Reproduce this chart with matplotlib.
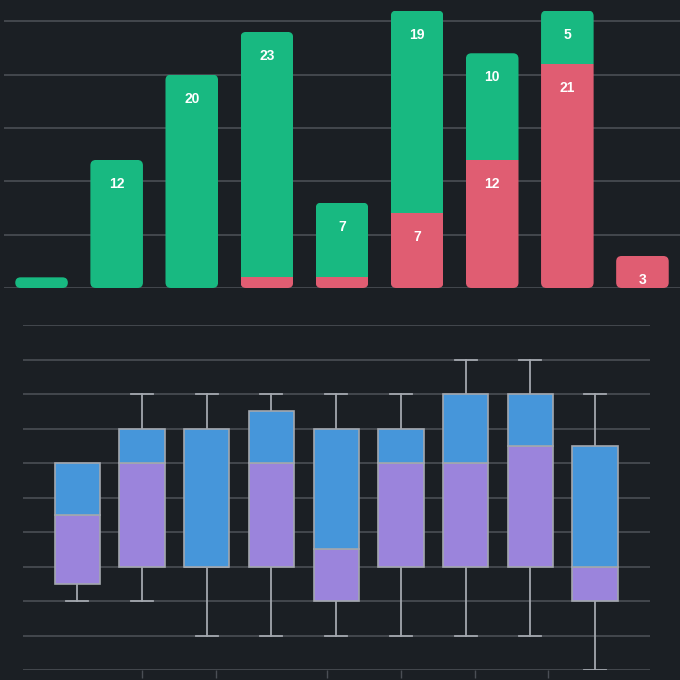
import numpy as np
import matplotlib
matplotlib.use("Agg")
import matplotlib.pyplot as plt
from matplotlib.patches import FancyBboxPatch

# --- data: stacked bars (top panel) ---
green_vals = [1, 12, 20, 23, 7, 19, 10, 5, 0]
red_vals = [0, 0, 0, 1, 1, 7, 12, 21, 3]

# --- data: box plots (bottom panel), five-number summaries ---
box_min = [2, 2, 1, 1, 1, 1, 1, 1, 0]
box_q1 = [2.5, 3, 3, 3, 2, 3, 3, 3, 2]
box_med = [4.5, 6, 3, 6, 3.5, 6, 6, 6.5, 3]
box_q3 = [6, 7, 7, 7.5, 7, 7, 8, 8, 6.5]
box_max = [6, 8, 8, 8, 8, 8, 9, 9, 8]
bottom_ticks = [1.0, 2.14, 3.86, 5.0, 6.14, 7.27]

BG = "#1b1f24"
GRID = "#4a4e55"
GREEN = "#18b981"
RED = "#e05d72"
BLUE = "#4696da"
PURPLE = "#9b84dc"
EDGE = "#a3a7ae"

W = H = 680
fig = plt.figure(figsize=(6.8, 6.8), dpi=100, facecolor=BG)

# ---------------- top: stacked rounded bars ----------------
ax1 = fig.add_axes([4 / W, 1 - 288 / H, 676 / W, 288 / H])
ax1.set_facecolor(BG)
x = np.arange(len(green_vals))
ax1.set_xlim(-0.5, len(x) - 0.5)
ax1.set_ylim(0, 288 / 10.67)
for s in ax1.spines.values():
    s.set_visible(False)
ax1.set_xticks([])
ax1.set_yticks([0, 5, 10, 15, 20, 25])
ax1.tick_params(axis="y", length=0, labelleft=False)
ax1.grid(axis="y", color=GRID, linewidth=1.2)
ax1.set_axisbelow(True)

bw = 0.7
rb = ax1.bar(x, red_vals, width=bw, color=RED, linewidth=0)
gb = ax1.bar(x, green_vals, width=bw, bottom=red_vals, color=GREEN, linewidth=0)

# rounded outline of each stack used as clip path
px_x = 676 / len(x)           # pixels per x unit
px_y = 10.67                  # pixels per y unit
aspect = px_x / px_y
for i in range(len(x)):
    total = green_vals[i] + red_vals[i]
    r = min(5.5 / px_x, total / aspect / 2)
    clip = FancyBboxPatch((x[i] - bw / 2, 0), bw, total,
                          boxstyle=f"round,pad=0,rounding_size={r}",
                          mutation_aspect=aspect, fill=False, linewidth=0)
    ax1.add_patch(clip)
    rb[i].set_clip_path(clip)
    gb[i].set_clip_path(clip)

# labels near the top of each segment
for i in range(len(x)):
    for v, top in ((red_vals[i], red_vals[i]),
                   (green_vals[i], red_vals[i] + green_vals[i])):
        if v >= 2:
            ax1.annotate(str(v), (x[i], top), xytext=(0, -17.3),
                         textcoords="offset points", ha="center", va="center",
                         color="white", fontsize=10, fontweight="bold",
                         family=["Liberation Sans", "DejaVu Sans"])

# ---------------- bottom: box plots ----------------
ax2 = fig.add_axes([23 / W, 1 - 670 / H, 627 / W, 345 / H])
ax2.set_facecolor(BG)
n = len(box_min)
ax2.set_xlim(-0.84, n - 1 + 0.85)
ax2.set_ylim(0, 10)
for s in ax2.spines.values():
    s.set_visible(False)
ax2.set_yticks(np.arange(0, 11))
ax2.tick_params(axis="y", length=0, labelleft=False)
ax2.grid(axis="y", color=GRID, linewidth=1.2)
ax2.set_axisbelow(True)
ax2.set_xticks(bottom_ticks)
ax2.tick_params(axis="x", length=5.5, width=1, color=GRID, labelbottom=False)

bxw = 0.7
cap = 0.17
for i in range(n):
    # whiskers and caps
    ax2.plot([i, i], [box_min[i], box_q1[i]], color=EDGE, lw=1.3, zorder=2)
    ax2.plot([i, i], [box_q3[i], box_max[i]], color=EDGE, lw=1.3, zorder=2)
    if box_min[i] < box_q1[i]:
        ax2.plot([i - cap, i + cap], [box_min[i]] * 2, color=EDGE, lw=1.3, zorder=2)
    if box_max[i] > box_q3[i]:
        ax2.plot([i - cap, i + cap], [box_max[i]] * 2, color=EDGE, lw=1.3, zorder=2)
    # lower half (q1 -> median) and upper half (median -> q3)
    ax2.bar(i, box_med[i] - box_q1[i], bottom=box_q1[i], width=bxw,
            color=PURPLE, edgecolor=EDGE, linewidth=1.2, zorder=3)
    ax2.bar(i, box_q3[i] - box_med[i], bottom=box_med[i], width=bxw,
            color=BLUE, edgecolor=EDGE, linewidth=1.2, zorder=3)

fig.savefig("out.png", dpi=100, facecolor=BG)
